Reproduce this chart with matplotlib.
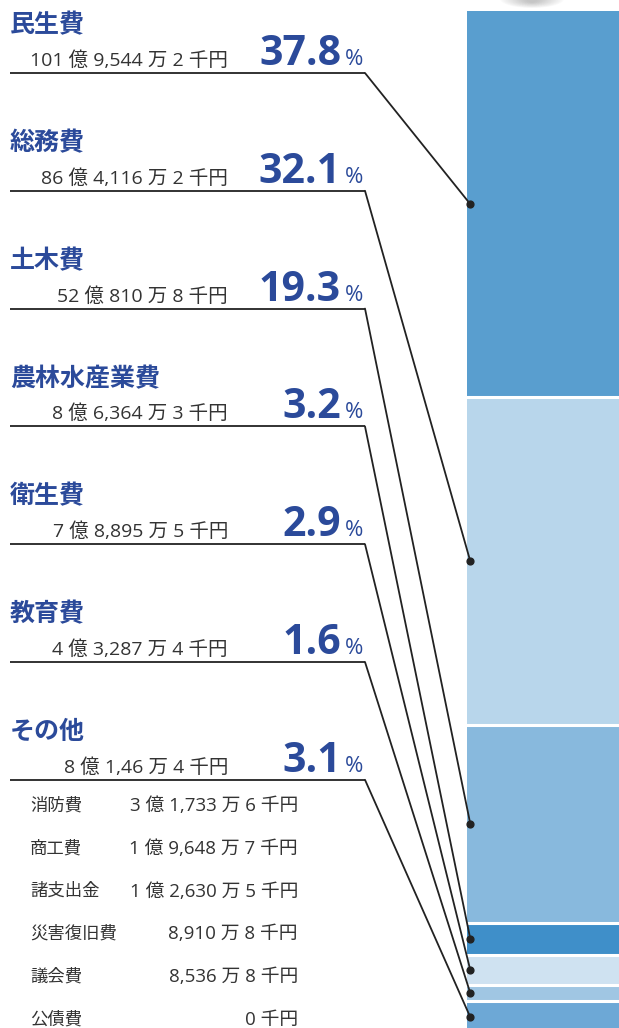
import matplotlib
matplotlib.use("Agg")
import matplotlib.pyplot as plt
from matplotlib.patches import ConnectionPatch, Ellipse
import matplotlib.transforms as mtransforms

FAM = ['Open Sans', 'Noto Sans CJK JP']
plt.rcParams['font.family'] = FAM

# ---- data ----
categories = ["民生費", "総務費", "土木費", "農林水産業費", "衛生費", "教育費", "その他"]
amounts = ["101 億 9,544 万 2 千円", "86 億 4,116 万 2 千円", "52 億 810 万 8 千円",
           "8 億 6,364 万 3 千円", "7 億 8,895 万 5 千円", "4 億 3,287 万 4 千円",
           "8 億 1,46 万 4 千円"]
percents = [37.8, 32.1, 19.3, 3.2, 2.9, 1.6, 3.1]
pct_labels = ["37.8", "32.1", "19.3", "3.2", "2.9", "1.6", "3.1"]
other_items = ["消防費", "商工費", "諸支出金", "災害復旧費", "議会費", "公債費"]
other_amounts = ["3 億 1,733 万 6 千円", "1 億 9,648 万 7 千円", "1 億 2,630 万 5 千円",
                 "8,910 万 8 千円", "8,536 万 8 千円", "0 千円"]
seg_colors = ["#599ECF", "#B8D6EB", "#88B9DD", "#3F8FC9", "#CFE2F1", "#A0C6E3", "#6DA8D6"]

W, H = 619, 1028
fig = plt.figure(figsize=(W / 100, H / 100), dpi=100)

ax0 = fig.add_axes([0, 0, 1, 1])
ax0.set_xlim(0, W)
ax0.set_ylim(H, 0)
ax0.axis("off")

# soft shadow at top (decoration)
for k in range(20):
    w = 64 - k * 2.8
    ax0.add_patch(Ellipse((532, -1), w, 18 - k * 0.6, color="#7a7a7a",
                          alpha=0.022, lw=0))

bar_left, bar_top = 467, 11
ax_bar = fig.add_axes([bar_left / W, 0, (W - bar_left) / W, (H - bar_top) / H])
ax_bar.axis("off")
cum = 0.0
mids = []
bounds = []
for p, c in zip(percents, seg_colors):
    ax_bar.bar(0, p, bottom=cum, width=1.0, color=c, linewidth=0)
    mids.append(cum + p / 2)
    cum += p
    bounds.append(cum)
for b in bounds[:-1]:
    ax_bar.axhline(b, color="white", lw=2.2)
ax_bar.set_xlim(-0.5, 0.5)
ax_bar.set_ylim(99.5, 0)

dot_tr = mtransforms.blended_transform_factory(ax_bar.transAxes, ax_bar.transData)
ax_bar.scatter([0.022] * len(mids), mids, s=24, color="#222222", zorder=5,
               transform=dot_tr, clip_on=False)

blue = "#2B4A9A"
gray = "#333333"
row_gap = 117.8
for i, (cat, amt, lab) in enumerate(zip(categories, amounts, pct_labels)):
    uy = 73 + i * row_gap
    ax0.text(10, uy - 47, cat, fontsize=18, fontweight="bold", color=blue,
             ha="left", va="center")
    ax0.text(228, uy - 7, amt, fontsize=14, color=gray, ha="right", va="baseline")
    ax0.text(341, uy - 8, lab, fontsize=29.5, fontweight="bold", color=blue,
             ha="right", va="baseline")
    ax0.text(345, uy - 8, "%", fontsize=16, color=blue, ha="left", va="baseline")
    ax0.plot([10, 365], [uy, uy], color="#222222", lw=1.3, solid_capstyle="butt")
    con = ConnectionPatch(xyA=(365, uy), coordsA=ax0.transData,
                          xyB=(0.022, mids[i]), coordsB=dot_tr,
                          color="#222222", lw=1.3)
    fig.add_artist(con)

for j, (name, val) in enumerate(zip(other_items, other_amounts)):
    y = 806 + j * 42.8
    ax0.text(30, y, name, fontsize=12.5, color=gray, ha="left", va="center")
    ax0.text(298, y, val, fontsize=13.5, color=gray, ha="right", va="center")

fig.savefig("out.png", dpi=100)
